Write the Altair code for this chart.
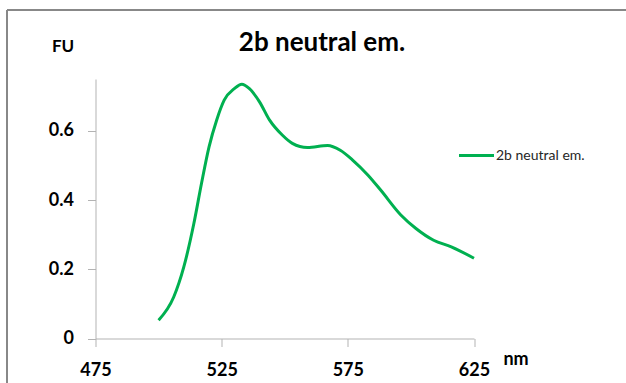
import altair as alt
import pandas as pd

wavelength = [500, 506, 510, 514, 517, 520, 523, 526, 530, 533, 536, 540, 544, 549,
              553, 559, 567, 572, 577, 583, 588, 596, 602, 609, 616, 625]
intensity = [0.053, 0.120, 0.207, 0.333, 0.448, 0.554, 0.631, 0.689, 0.722, 0.735,
             0.722, 0.684, 0.631, 0.588, 0.564, 0.552, 0.558, 0.544, 0.515, 0.472,
             0.429, 0.357, 0.318, 0.284, 0.265, 0.232]
x_ticks = [475, 525, 575, 625]
y_ticks = [0, 0.2, 0.4, 0.6]
series_name = "2b neutral em."
title_text = "2b neutral em."
y_unit = "FU"
x_unit = "nm"

FONT = "Lato"
GREEN = "#00B050"
PL, PT = 95.5, 79.0
W, H = 378.5, 259.5

df = pd.DataFrame({"nm": wavelength, "fu": intensity})

x_enc = alt.X("nm:Q", scale=alt.Scale(domain=[475, 625], nice=False, zero=False),
              axis=alt.Axis(values=x_ticks, title=None, grid=False, labelFont=FONT,
                            labelFontSize=18, labelFontWeight="bold", labelColor="#000000",
                            domainColor="#B3B3B3", tickColor="#B3B3B3", tickSize=8,
                            labelPadding=15, labelFlush=False))
y_enc = alt.Y("fu:Q", scale=alt.Scale(domain=[0, 0.75], nice=False),
              axis=alt.Axis(values=y_ticks, title=None, grid=False, labelFont=FONT,
                            labelFontSize=18, labelFontWeight="bold", labelColor="#000000",
                            domainColor="#B3B3B3", tickColor="#B3B3B3", tickSize=8,
                            labelPadding=14,
                            labelExpr="datum.value == 0 ? '0' : format(datum.value, '.1f')"))

line = alt.Chart(df).mark_line(interpolate="monotone", color=GREEN, strokeWidth=3).encode(
    x=x_enc, y=y_enc)

one = pd.DataFrame({"k": [0]})

def txt(s, x, y, size, weight="bold", align="center", color="#000000"):
    return alt.Chart(one).mark_text(font=FONT, fontSize=size, fontWeight=weight,
                                    align=align, baseline="middle", color=color).encode(
        x=alt.value(x - PL), y=alt.value(y - PT), text=alt.value(s))

title = txt(title_text, 322, 43, 26)
fu = txt(y_unit, 63, 47, 17)
nm = txt(x_unit, 516, 360, 18)
leg_text = txt(series_name, 496, 156, 14, weight="normal", align="left", color="#262626")
leg_line = alt.Chart(one).mark_rule(color=GREEN, strokeWidth=3).encode(
    x=alt.value(459 - PL), x2=alt.value(494 - PL), y=alt.value(155.5 - PT))

frame_left = alt.Chart(one).mark_rule(color="#888888", strokeWidth=2).encode(
    x=alt.value(7 - PL), y=alt.value(10 - PT), y2=alt.value(383 - PT + 5))
frame_top = alt.Chart(one).mark_rule(color="#888888", strokeWidth=2).encode(
    x=alt.value(7 - PL), x2=alt.value(626 - PL + 5), y=alt.value(10 - PT))

chart = alt.layer(frame_left, frame_top, line, title, fu, nm, leg_line, leg_text).properties(
    width=W, height=H,
    autosize=alt.AutoSizeParams(type="none"),
    padding={"left": PL, "top": PT, "right": 626 - PL - W, "bottom": 383 - PT - H},
    background="white",
).configure_view(stroke=None)

chart.save("out.html", embed_options={"renderer": "svg", "actions": False})
